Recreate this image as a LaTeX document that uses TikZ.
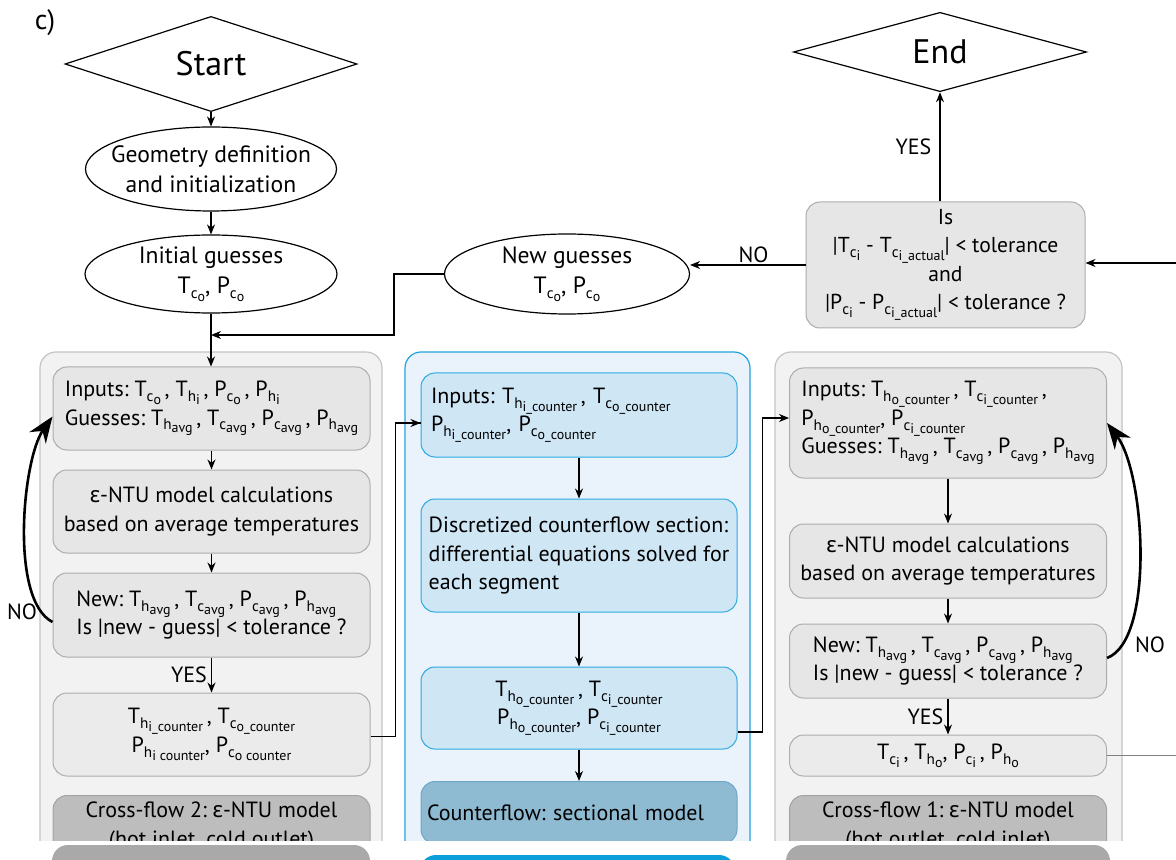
\documentclass[tikz,border=0pt]{standalone}
\usepackage{fontspec}
\setmainfont{PT Sans}
\newfontfamily\grk{Noto Sans}
\usetikzlibrary{shapes.geometric,arrows.meta}
\frenchspacing

\definecolor{contfill}{HTML}{F2F2F2}
\definecolor{contline}{HTML}{C4C4C4}
\definecolor{boxfill}{HTML}{E6E6E6}
\definecolor{boxline}{HTML}{ADADAD}
\definecolor{outfill}{HTML}{EBEBEB}
\definecolor{crossfill}{HTML}{BDBDBD}
\definecolor{crossline}{HTML}{A3A3A3}
\definecolor{bargray}{HTML}{A8A9A8}
\definecolor{bcontfill}{HTML}{EAF3FC}
\definecolor{bcontline}{HTML}{22A3DC}
\definecolor{bboxfill}{HTML}{CFE6F5}
\definecolor{bboxline}{HTML}{2DA9E1}
\definecolor{cntfill}{HTML}{8FBBD2}
\definecolor{cntline}{HTML}{6DA7C8}
\definecolor{barblue}{HTML}{0A9FD9}

% variable with subscript and sub-subscript
\newcommand{\vs}[3]{#1\raisebox{-0.45ex}{\fontsize{7.6}{8}\selectfont #2\raisebox{-0.4ex}{\fontsize{7}{8}\selectfont #3}}}
\newcommand{\epsl}{{\grk ε}}

\begin{document}
\begin{tikzpicture}[x=0.5pt,y=-0.5pt,
	font=\fontsize{11}{14.2}\selectfont,
	arr/.style={-{Stealth[length=5pt,width=4pt]},line width=0.6pt},
	loopy/.style={-{Stealth[length=13pt,width=10pt]},line width=1.3pt},
	lbl/.style={font=\fontsize{11}{13}\selectfont,inner sep=1pt},
	term/.style={draw,diamond,line width=0.6pt,inner sep=0pt,font=\fontsize{17}{20}\selectfont},
	oval/.style={draw,ellipse,line width=0.6pt,inner xsep=-10pt,inner ysep=-2pt,align=center,font=\fontsize{11.8}{15}\selectfont},
	gbox/.style={draw=boxline,fill=boxfill,line width=0.5pt,rounded corners=7pt,inner sep=0pt,minimum width=158.5pt,align=center},
	bbox/.style={draw=bboxline,fill=bboxfill,line width=0.5pt,rounded corners=7pt,inner sep=0pt,minimum width=158pt,align=center},
	gcont/.style={draw=contline,fill=contfill,line width=0.6pt,rounded corners=8pt},
	bcont/.style={draw=bcontline,fill=bcontfill,line width=0.6pt,rounded corners=8pt}]

\useasboundingbox (0,0) rectangle (1176,860);

\begin{scope}
\clip (0,0) rectangle (1176,840);

\node[font=\fontsize{14}{16}\selectfont] (tag) at (45,23) {c)};

% start and geometry
\node[term,minimum width=146pt,minimum height=39pt] (start) at (211,64) {Start};
\node[oval,minimum width=125.5pt,minimum height=42pt] (geo) at (211,169) {Geometry definition\\and initialization};
\node[oval,minimum width=126pt,minimum height=39pt] (init) at (211,274) {Initial guesses\\\vs{T}{c}{o}, \vs{P}{c}{o}};
\node[oval,minimum width=122.5pt,minimum height=40pt] (newg) at (567,274) {New guesses\\\vs{T}{c}{o}, \vs{P}{c}{o}};

% convergence check and end
\node[term,minimum width=146.5pt,minimum height=39pt] (end) at (940,52) {End};
\node[gbox,minimum width=139.5pt,minimum height=63pt,font=\fontsize{10.8}{14.2}\selectfont] (isbox) at (945.5,265)
	{Is\\ |\vs{T}{c}{i} - \vs{T}{c}{i\_actual}| < tolerance\\ and\\ |\vs{P}{c}{i} - \vs{P}{c}{i\_actual}| < tolerance ?};

% three model blocks
\draw[gcont] (40,352) rectangle (382,900);
\draw[bcont] (405,352) rectangle (750,900);
\draw[gcont] (775,352) rectangle (1122,900);

% cross-flow 2
\node[gbox,align=left,minimum height=41.5pt] (linputs) at (211.5,408.5)
	{Inputs: \vs{T}{c}{o}\,, \vs{T}{h}{i}\,, \vs{P}{c}{o}\,, \vs{P}{h}{i}\\
	 Guesses: \vs{T}{h}{avg}\,, \vs{T}{c}{avg}\,, \vs{P}{c}{avg}\,, \vs{P}{h}{avg}};
\node[gbox,minimum height=41.5pt] (lntu) at (211.5,511.5)
	{\epsl-NTU model calculations\\based on average temperatures};
\node[gbox,align=left,minimum height=42pt] (lnew) at (211.5,615)
	{New: \vs{T}{h}{avg}\,, \vs{T}{c}{avg}\,, \vs{P}{c}{avg}\,, \vs{P}{h}{avg}\\
	 Is |new - guess| < tolerance ?};
\node[gbox,fill=outfill,minimum height=41.5pt] (lout) at (211.5,734.5)
	{\vs{T}{h}{i\_counter}\,, \vs{T}{c}{o\_counter}\\ \vs{P}{h}{i counter}, \vs{P}{c}{o counter}};
\node[gbox,draw=crossline,fill=crossfill,minimum height=31pt,anchor=north] (lcross) at (211.5,795)
	{Cross-flow 2: \epsl-NTU model\\(hot inlet, cold outlet)};

% counterflow
\node[bbox,align=left,inner xsep=5pt,text width=148pt,minimum height=42pt] (minputs) at (579,415)
	{Inputs: \vs{T}{h}{i\_counter}\,, \vs{T}{c}{o\_counter}\\
	 \vs{P}{h}{i\_counter}, \vs{P}{c}{o\_counter}};
\node[bbox,align=left,minimum height=56.5pt] (mdisc) at (579,555.5)
	{Discretized counterflow section:\\ differential equations solved for\\ each segment};
\node[bbox,minimum height=41pt] (mout) at (579,708)
	{\vs{T}{h}{o\_counter}\,, \vs{T}{c}{i\_counter}\\ \vs{P}{h}{o\_counter}, \vs{P}{c}{i\_counter}};
\node[bbox,draw=cntline,fill=cntfill,align=left,inner xsep=3pt,text width=152pt,minimum height=31pt,anchor=north] (mcount) at (579,781)
	{Counterflow: sectional model};

% cross-flow 1
\node[gbox,align=left,minimum height=55pt] (rinputs) at (948,423)
	{Inputs: \vs{T}{h}{o\_counter}\,, \vs{T}{c}{i\_counter}\,,\\
	 \vs{P}{h}{o\_counter}, \vs{P}{c}{i\_counter}\\
	 Guesses: \vs{T}{h}{avg}\,, \vs{T}{c}{avg}\,, \vs{P}{c}{avg}\,, \vs{P}{h}{avg}};
\node[gbox,minimum height=37pt] (rntu) at (948,561)
	{\epsl-NTU model calculations\\based on average temperatures};
\node[gbox,align=left,minimum height=37pt] (rnew) at (948,661)
	{New: \vs{T}{h}{avg}\,, \vs{T}{c}{avg}\,, \vs{P}{c}{avg}\,, \vs{P}{h}{avg}\\
	 Is |new - guess| < tolerance ?};
\node[gbox,fill=outfill,minimum height=20.5pt] (rout) at (948,755.5)
	{\vs{T}{c}{i}\,, \vs{T}{h}{o}, \vs{P}{c}{i}\,, \vs{P}{h}{o}};
\node[gbox,draw=crossline,fill=crossfill,minimum height=31pt,anchor=north] (rcross) at (948,795)
	{Cross-flow 1: \epsl-NTU model\\(hot outlet, cold inlet)};

\coordinate (join) at (211,335);
\coordinate (rin) at (1176,263);
\coordinate (rend) at (1176,757);

% connectors
\draw[arr] (start.south) -- (geo.north);
\draw[arr] (geo.south) -- (init.north);
\draw[arr] (init.south) -- (init.south |- linputs.north);
\draw[arr] (newg.west) -- ++(-50,0) |- (join);
\draw[arr] (isbox.west) -- node[lbl,above,pos=0.45] (nolbl) {NO} (isbox.west -| newg.east);
\draw[arr] (end.south |- isbox.north) -- node[lbl,left,pos=0.5,xshift=-3pt] (yeslbl) {YES} (end.south);
\draw[arr] (rin) -- (rin -| isbox.east);

\draw[arr] (linputs) -- (lntu);
\draw[arr] (lntu) -- (lnew);
\draw[arr] (lnew) -- node[lbl,left,xshift=-1pt] (lyes) {YES} (lout);
\draw[loopy] ([yshift=-3.5pt]lnew.west) .. controls +(-43,-22) and +(-30,43) .. ([yshift=-4pt]linputs.west);
\node[lbl] (lno) at (22,612) {NO};
\draw[line width=0.6pt] ([yshift=-1pt]lout.east) -- ++(25,0) |- ([yshift=-4pt]minputs.west) coordinate (mtip);
\draw[arr] ([yshift=-4pt,xshift=-2pt]minputs.west) -- (mtip);

\draw[arr] (minputs) -- (mdisc);
\draw[arr] (mdisc) -- (mout);
\draw[arr] (mout) -- (mcount);
\draw[arr] ([yshift=-12pt]mout.east) -- ++(25,0) |- ([yshift=2.5pt]rinputs.west);

\draw[arr] (rinputs) -- (rntu);
\draw[arr] (rntu) -- (rnew);
\draw[arr] (rnew) -- node[lbl,left,xshift=-1pt] (ryes) {YES} (rout);
\draw[loopy] ([yshift=1.5pt]rnew.east) .. controls +(48,-18) and +(38,50) .. (rinputs.east);
\node[lbl] (rno) at (1150,645) {NO};
\draw[gray,line width=0.5pt] (rout.east) -- (rout.east -| rend);
\end{scope}

% strips under the cut
\fill[bargray,rounded corners=8pt] (52,845) rectangle (370,890);
\fill[barblue,rounded corners=8pt] (420,855) rectangle (735,890);
\fill[bargray,rounded corners=8pt] (786,845) rectangle (1110,890);
\end{tikzpicture}
\end{document}
